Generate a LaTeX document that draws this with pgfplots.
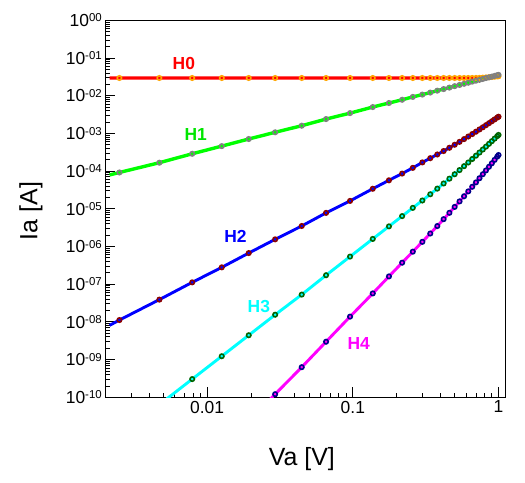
\documentclass[border=0pt]{standalone}
\usepackage{fontspec}
\setmainfont{Liberation Sans}
\usepackage{pgfplots}
\pgfplotsset{compat=1.18}
\usepackage{pgfplotstable}

\definecolor{hred}{RGB}{255,0,0}
\definecolor{horange}{RGB}{255,165,0}
\definecolor{hgreen}{RGB}{0,255,0}
\definecolor{hlabgreen}{RGB}{0,230,0}
\definecolor{hgray}{RGB}{128,128,128}
\definecolor{hblue}{RGB}{0,0,255}
\definecolor{hdarkred}{RGB}{139,0,0}
\definecolor{hcyan}{RGB}{0,255,255}
\definecolor{hdarkgreen}{RGB}{0,100,0}
\definecolor{hmagenta}{RGB}{255,0,255}
\definecolor{hnavy}{RGB}{0,0,139}

\newcommand{\tl}[1]{10\raisebox{4.6bp}{\fontsize{11.5}{11.5}\selectfont #1}}

\pgfplotstableread{
x y
0.00214 0.0295
0.0025 0.0295
0.0047 0.0295
0.0079 0.0295
0.0126 0.0295
0.0193 0.0295
0.0293 0.0295
0.0446 0.0295
0.0655 0.0295
0.0957 0.0295
0.137 0.0295
0.177 0.0295
0.218 0.0295
0.258 0.0295
0.30 0.0295
0.34 0.0295
0.38 0.0295
0.42 0.0295
0.46 0.0295
0.50 0.0295
0.54 0.0295
0.58 0.0295
0.62 0.0295
0.66 0.0295
0.70 0.0296
0.74 0.0298
0.78 0.0301
0.82 0.0305
0.86 0.0309
0.90 0.0314
0.94 0.0319
0.98 0.0325
1.00 0.0328
}\Hzero

\pgfplotstableread{
x y
0.00214 7.9e-5
0.0025 9.2e-5
0.0047 1.67e-4
0.0079 2.88e-4
0.0126 4.6e-4
0.0193 7.1e-4
0.0293 1.07e-3
0.0446 1.6e-3
0.0655 2.4e-3
0.0957 3.45e-3
0.137 5.0e-3
0.177 6.4e-3
0.218 7.8e-3
0.258 9.3e-3
0.30 0.0107
0.34 0.0121
0.38 0.0136
0.42 0.0150
0.46 0.0164
0.50 0.0179
0.54 0.0193
0.58 0.0207
0.62 0.0221
0.66 0.0236
0.70 0.0250
0.74 0.0264
0.78 0.0278
0.82 0.0293
0.86 0.0307
0.90 0.0321
0.94 0.0336
0.98 0.0350
1.00 0.0357
}\Hone

\pgfplotstableread{
x y
0.00214 8.1e-9
0.0025 1.12e-8
0.0047 3.9e-8
0.0079 1.12e-7
0.0126 2.8e-7
0.0193 6.7e-7
0.0293 1.55e-6
0.0446 3.5e-6
0.0655 7.8e-6
0.0957 1.62e-5
0.137 3.4e-5
0.177 5.7e-5
0.218 8.6e-5
0.258 1.22e-4
0.30 1.7e-4
0.34 2.2e-4
0.38 2.76e-4
0.42 3.41e-4
0.46 4.16e-4
0.50 5.0e-4
0.54 5.97e-4
0.58 7.06e-4
0.62 8.26e-4
0.66 9.6e-4
0.70 1.109e-3
0.74 1.273e-3
0.78 1.452e-3
0.82 1.65e-3
0.86 1.865e-3
0.90 2.1e-3
0.94 2.35e-3
0.98 2.63e-3
1.00 2.77e-3
}\Htwo

\pgfplotstableread{
x y
0.005 7.7e-11
0.0079 3.04e-10
0.0126 1.23e-9
0.0193 4.43e-9
0.0293 1.55e-8
0.0446 5.3e-8
0.0655 1.73e-7
0.0957 5.4e-7
0.137 1.59e-6
0.177 3.42e-6
0.218 6.4e-6
0.258 1.06e-5
0.30 1.66e-5
0.34 2.43e-5
0.38 3.43e-5
0.42 4.70e-5
0.46 6.30e-5
0.50 8.26e-5
0.54 1.065e-4
0.58 1.351e-4
0.62 1.693e-4
0.66 2.094e-4
0.70 2.565e-4
0.74 3.11e-4
0.78 3.74e-4
0.82 4.46e-4
0.86 5.29e-4
0.90 6.22e-4
0.94 7.28e-4
0.98 8.46e-4
1.00 9.11e-4
}\Hthree

\pgfplotstableread{
x y
0.027 8.7e-11
0.0293 1.21e-10
0.0446 6.3e-10
0.0655 2.98e-9
0.0957 1.38e-8
0.137 5.7e-8
0.177 1.61e-7
0.218 3.72e-7
0.258 7.29e-7
0.30 1.33e-6
0.34 2.21e-6
0.38 3.49e-6
0.42 5.31e-6
0.46 7.83e-6
0.50 1.122e-5
0.54 1.57e-5
0.58 2.15e-5
0.62 2.90e-5
0.66 3.84e-5
0.70 5.02e-5
0.74 6.47e-5
0.78 8.26e-5
0.82 1.042e-4
0.86 1.303e-4
0.90 1.614e-4
0.94 1.984e-4
0.98 2.42e-4
1.00 2.67e-4
}\Hfour

\begin{document}
\begin{tikzpicture}
\begin{axis}[
  scale only axis, width=400.4bp, height=377bp,
  xmode=log, ymode=log,
  xmin=0.002, xmax=1.12, ymin=1e-10, ymax=1,
  axis line style={line width=1.2bp},
  tick align=inside, xtick pos=bottom, ytick pos=left,
  xtick={0.01,0.1,1}, xticklabels={0.01,0.1,1},
  minor xtick={0.002,0.003,0.004,0.005,0.006,0.007,0.008,0.009,0.02,0.03,0.04,0.05,0.06,0.07,0.08,0.09,0.2,0.3,0.4,0.5,0.6,0.7,0.8,0.9},
  ytick={1e-10,1e-9,1e-8,1e-7,1e-6,1e-5,1e-4,1e-3,1e-2,1e-1,1},
  yticklabels={\tl{-10},\tl{-09},\tl{-08},\tl{-07},\tl{-06},\tl{-05},\tl{-04},\tl{-03},\tl{-02},\tl{-01},\tl{00}},
  minor ytick={2e-10,3e-10,4e-10,5e-10,6e-10,7e-10,8e-10,9e-10,
    2e-9,3e-9,4e-9,5e-9,6e-9,7e-9,8e-9,9e-9,
    2e-8,3e-8,4e-8,5e-8,6e-8,7e-8,8e-8,9e-8,
    2e-7,3e-7,4e-7,5e-7,6e-7,7e-7,8e-7,9e-7,
    2e-6,3e-6,4e-6,5e-6,6e-6,7e-6,8e-6,9e-6,
    2e-5,3e-5,4e-5,5e-5,6e-5,7e-5,8e-5,9e-5,
    2e-4,3e-4,4e-4,5e-4,6e-4,7e-4,8e-4,9e-4,
    2e-3,3e-3,4e-3,5e-3,6e-3,7e-3,8e-3,9e-3,
    2e-2,3e-2,4e-2,5e-2,6e-2,7e-2,8e-2,9e-2,
    2e-1,3e-1,4e-1,5e-1,6e-1,7e-1,8e-1,9e-1},
  major tick length=10bp, minor tick length=4.5bp,
  every tick/.style={black, line width=0.9bp},
  tick label style={font=\fontsize{17.5}{17.5}\selectfont},
  xlabel={Va [V]}, ylabel={Ia [A]},
  label style={font=\fontsize{25}{25}\selectfont},
  xlabel style={at={(axis description cs:0.491,-0.1637)},anchor=center},
  ylabel style={at={(axis description cs:-0.1856,0.494)},anchor=center},
]
\addplot[hred, line width=3.4bp, no marks] table {\Hzero};
\addplot[only marks, mark=o, mark size=2.2bp, mark options={draw=horange, line width=1.6bp}, skip coords between index={0}{1}] table {\Hzero};
\addplot[hgreen, line width=3.4bp, no marks] table {\Hone};
\addplot[only marks, mark=o, mark size=2.2bp, mark options={draw=hgray, line width=1.6bp}, skip coords between index={0}{1}] table {\Hone};
\addplot[hblue, line width=2.9bp, no marks] table {\Htwo};
\addplot[only marks, mark=o, mark size=2.2bp, mark options={draw=hdarkred, line width=1.6bp}, skip coords between index={0}{1}] table {\Htwo};
\addplot[hcyan, line width=2.9bp, no marks] table {\Hthree};
\addplot[only marks, mark=o, mark size=2.2bp, mark options={draw=hdarkgreen, line width=1.6bp}, skip coords between index={0}{1}] table {\Hthree};
\addplot[hmagenta, line width=2.9bp, no marks] table {\Hfour};
\addplot[only marks, mark=o, mark size=2.2bp, mark options={draw=hnavy, line width=1.6bp}, skip coords between index={0}{1}] table {\Hfour};

\node[text=hred, font=\bfseries\fontsize{17.5}{17.5}\selectfont] at (axis cs:0.00692,0.0706) {H0};
\node[text=hlabgreen, font=\bfseries\fontsize{17.5}{17.5}\selectfont] at (axis cs:0.00836,9.07e-4) {H1};
\node[text=hblue, font=\bfseries\fontsize{17.5}{17.5}\selectfont] at (axis cs:0.01564,1.9e-6) {H2};
\node[text=hcyan, font=\bfseries\fontsize{17.5}{17.5}\selectfont] at (axis cs:0.02265,2.53e-8) {H3};
\node[text=hmagenta, font=\bfseries\fontsize{17.5}{17.5}\selectfont] at (axis cs:0.1098,2.7e-9) {H4};
\coordinate (bl) at (rel axis cs:0,0);
\end{axis}
\pgfresetboundingbox
\path (bl) ++(-105.3bp,-85.7bp) rectangle ++(525bp,483bp);
\end{tikzpicture}
\end{document}
